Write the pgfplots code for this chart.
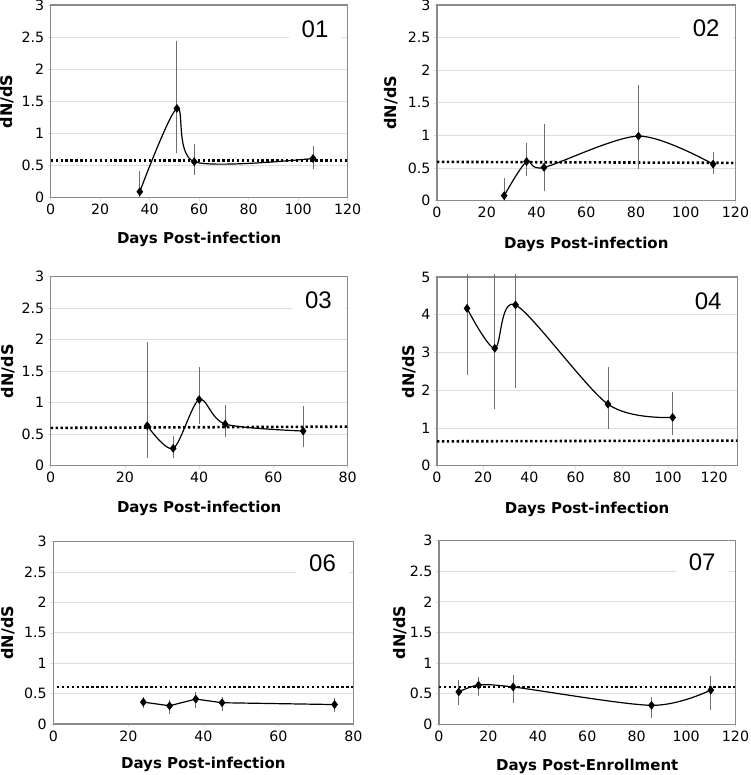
\documentclass[border=0pt]{standalone}
\usepackage{fontspec}
\setmainfont{DejaVu Sans}
\newfontfamily\arialf{Liberation Sans}
\usepackage{pgfplots}
\pgfplotsset{compat=1.18}
\definecolor{frame}{HTML}{8A8A8A}
\definecolor{gridc}{HTML}{DEDEDE}
\definecolor{errc}{HTML}{6E6E6E}
\pgfplotsset{
  panel/.style={
    scale only axis,
    axis line style={frame, line width=1.3pt},
    ymajorgrids, grid style={gridc, line width=0.9pt},
    tick align=outside, major tick length=3pt,
    tick style={gridc, line width=0.6pt},
    xtick pos=bottom, ytick pos=left,
    ymin=0,
    /pgf/number format/assume math mode=true,
    tick label style={font=\fontsize{14.2}{16}\selectfont},
    xlabel={Days Post-infection}, ylabel={dN/dS},
    xlabel style={font=\fontsize{15}{18}\selectfont\bfseries},
    ylabel style={font=\fontsize{16}{18}\selectfont\bfseries},
    yticklabel style={/pgf/number format/fixed},
  },
  dat/.style={black, line width=1.2pt, smooth, mark=diamond*, mark size=4pt,
    mark options={solid, fill=black, line width=0.5pt},
    error bars/y dir=both, error bars/y explicit, error bars/error mark=none,
    error bars/error bar style={errc, line width=0.9pt}},
  ref/.style={black, line width=2.6pt, dash pattern=on 2.4pt off 2.5pt, no marks},
}
\tikzset{numtag/.style={fill=white, inner xsep=13pt, inner ysep=1pt, font=\arialf\fontsize{24}{27}\selectfont}}
\begin{document}
\begin{tikzpicture}[x=1pt,y=1pt]
\path[use as bounding box] (0,0) rectangle (750,775);
% 01
\begin{axis}[panel, at={(50.7pt,577.3pt)}, anchor=south west, width=297pt, height=192.7pt,
  xmin=0, xmax=120, ymax=3, xtick={0,20,...,120}, ytick={0,0.5,...,3},
  yticklabels={0,0.5,1,1.5,2,2.5,3},
  xlabel style={at={(axis description cs:0.5,-0.216)}, anchor=center},
  ylabel style={at={(axis description cs:-0.147,0.5)}, anchor=center}]
\addplot[ref] coordinates {(0,0.58) (120,0.58)};
\addplot[dat] coordinates {(36,0.093) += (0,0.33) -= (0,0.09) (51,1.39) += (0,1.05) -= (0,0.69) (58,0.56) += (0,0.27) -= (0,0.2) (106,0.61) += (0,0.2) -= (0,0.16)};
\node[numtag] at (axis cs:106.8,2.63) {01};
\end{axis}
% 02
\begin{axis}[panel, at={(437pt,574.3pt)}, anchor=south west, width=298.5pt, height=195.7pt,
  xmin=0, xmax=120, ymax=3, xtick={0,20,...,120}, ytick={0,0.5,...,3},
  yticklabels={0,0.5,1,1.5,2,2.5,3},
  xlabel style={at={(axis description cs:0.5,-0.223)}, anchor=center},
  ylabel style={at={(axis description cs:-0.153,0.5)}, anchor=center}]
\addplot[ref] coordinates {(0,0.595) (120,0.58)};
\addplot[dat] coordinates {(27,0.077) += (0,0.27) -= (0,0.077) (36,0.60) += (0,0.29) -= (0,0.22) (43,0.51) += (0,0.66) -= (0,0.36) (81,0.99) += (0,0.79) -= (0,0.51) (111,0.56) += (0,0.19) -= (0,0.15)};
\node[numtag] at (axis cs:108.2,2.64) {02};
\end{axis}
% 03
\begin{axis}[panel, at={(50.7pt,309.3pt)}, anchor=south west, width=297pt, height=189pt,
  xmin=0, xmax=80, ymax=3, xtick={0,20,...,80}, ytick={0,0.5,...,3},
  yticklabels={0,0.5,1,1.5,2,2.5,3},
  xlabel style={at={(axis description cs:0.5,-0.225)}, anchor=center},
  ylabel style={at={(axis description cs:-0.144,0.5)}, anchor=center}]
\addplot[ref] coordinates {(0,0.60) (80,0.62)};
\addplot[dat] coordinates {(26,0.635) += (0,1.33) -= (0,0.52) (33,0.275) += (0,0.2) -= (0,0.145) (40,1.05) += (0,0.51) -= (0,0.39) (47,0.66) += (0,0.30) -= (0,0.21) (68,0.55) += (0,0.40) -= (0,0.26)};
\node[numtag] at (axis cs:72.1,2.62) {03};
\end{axis}
% 04
\begin{axis}[panel, at={(437pt,309.3pt)}, anchor=south west, width=300.3pt, height=188.7pt, clip=false,
  xmin=0, xmax=130, ymax=5, xtick={0,20,...,120}, ytick={0,1,...,5},
  xlabel style={at={(axis description cs:0.5,-0.23)}, anchor=center},
  ylabel style={at={(axis description cs:-0.093,0.5)}, anchor=center}]
\addplot[ref] coordinates {(0,0.645) (130,0.665)};
\addplot[dat] coordinates {(13,4.17) += (0,0.91) -= (0,1.78) (25,3.11) += (0,1.97) -= (0,1.61) (34,4.26) += (0,0.82) -= (0,2.21) (74,1.63) += (0,0.99) -= (0,0.66) (102,1.28) += (0,0.66) -= (0,0.47)};
\node[numtag] at (axis cs:117.4,4.37) {04};
\end{axis}
% 06
\begin{axis}[panel, at={(53.3pt,51pt)}, anchor=south west, width=300pt, height=182.3pt,
  xmin=0, xmax=80, ymax=3, xtick={0,20,...,80}, ytick={0,0.5,...,3},
  yticklabels={0,0.5,1,1.5,2,2.5,3},
  xlabel style={at={(axis description cs:0.5,-0.22)}, anchor=center},
  ylabel style={at={(axis description cs:-0.151,0.5)}, anchor=center}]
\addplot[ref] coordinates {(1,0.61) (80,0.61)};
\addplot[dat, sharp plot] coordinates {(24,0.36) += (0,0.09) -= (0,0.10) (31,0.30) += (0,0.09) -= (0,0.14) (38,0.41) += (0,0.11) -= (0,0.14) (45,0.35) += (0,0.10) -= (0,0.13) (75,0.32) += (0,0.10) -= (0,0.13)};
\node[numtag] at (axis cs:71.8,2.64) {06};
\end{axis}
% 07
\begin{axis}[panel, at={(439pt,50.7pt)}, anchor=south west, width=296.5pt, height=183.6pt,
  xmin=0, xmax=120, ymax=3, xtick={0,20,...,120}, ytick={0,0.5,...,3},
  yticklabels={0,0.5,1,1.5,2,2.5,3},
  xlabel={Days Post-Enrollment},
  xlabel style={at={(axis description cs:0.5,-0.227)}, anchor=center},
  ylabel style={at={(axis description cs:-0.131,0.5)}, anchor=center}]
\addplot[ref] coordinates {(0,0.61) (120,0.61)};
\addplot[dat] coordinates {(8,0.53) += (0,0.19) -= (0,0.22) (16,0.64) += (0,0.14) -= (0,0.18) (30,0.61) += (0,0.19) -= (0,0.26) (86,0.31) += (0,0.14) -= (0,0.21) (110,0.56) += (0,0.23) -= (0,0.33)};
\node[numtag] at (axis cs:106.5,2.64) {07};
\end{axis}
\end{tikzpicture}
\end{document}
